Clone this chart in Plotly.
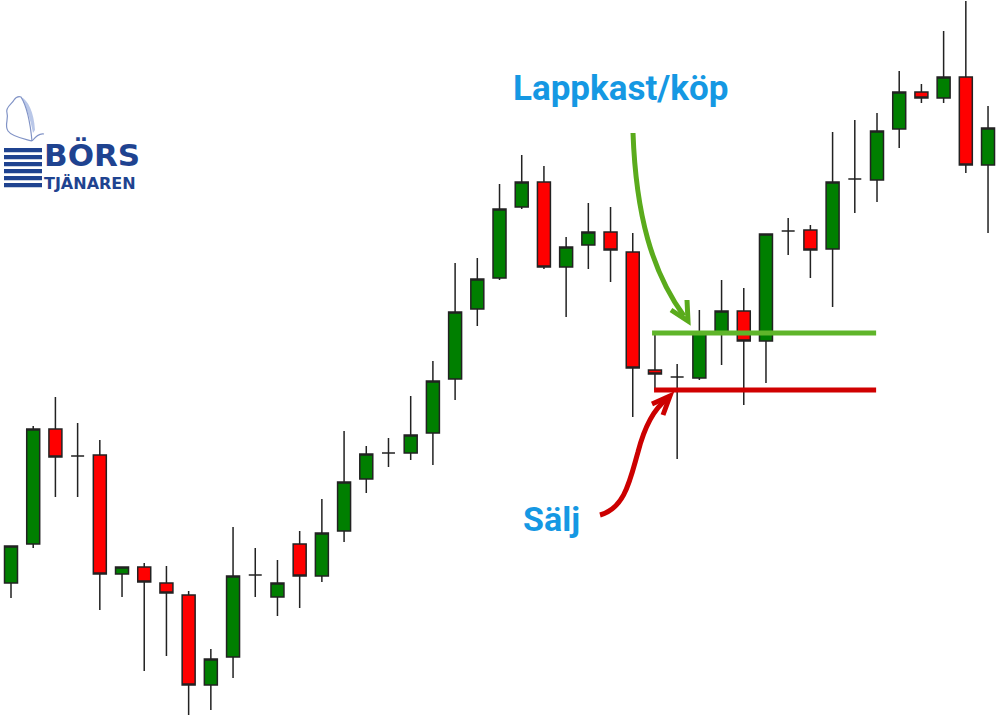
import plotly.graph_objects as go

# ---- data (price units) ----
idx = list(range(45))
opens = [113.4, 117.3, 128.8, 126.1, 126.2, 114.3, 115.0, 113.4, 112.2, 103.2,
         106.0, 114.2, 112.0, 117.3, 114.1, 118.6, 123.8, 126.4, 126.4, 128.4,
         133.8, 140.8, 143.9, 151.0, 153.5, 145.0, 147.2, 148.5, 146.5, 134.7,
         134.0, 133.9, 138.4, 140.6, 137.6, 148.6, 148.7, 146.8, 153.8, 153.7,
         158.8, 162.5, 161.9, 164.0, 155.2]
highs = [117.1, 129.1, 132.0, 129.4, 127.7, 115.0, 115.4, 115.1, 112.6, 106.8,
         119.0, 116.9, 115.7, 118.6, 121.8, 128.6, 127.1, 127.9, 132.1, 135.6,
         145.4, 145.9, 153.3, 156.2, 155.1, 148.0, 151.4, 151.0, 148.4, 138.2,
         135.3, 140.7, 143.7, 142.9, 148.3, 149.9, 149.2, 158.5, 159.7, 160.4,
         164.6, 163.3, 168.6, 171.6, 161.1]
lows = [111.9, 116.9, 122.0, 122.0, 110.7, 112.0, 104.6, 106.1, 100.2, 100.7,
        103.9, 112.0, 110.1, 110.9, 113.5, 117.5, 122.4, 125.0, 125.7, 125.2,
        131.7, 139.1, 143.7, 150.8, 144.8, 140.0, 144.8, 143.5, 130.0, 132.7,
        125.8, 133.7, 135.2, 131.2, 133.4, 146.2, 143.9, 141.0, 150.4, 151.5,
        156.9, 161.4, 161.4, 154.4, 148.4]
closes = [117.1, 128.8, 126.0, 126.1, 114.3, 115.0, 113.5, 112.4, 103.2, 105.8,
          114.1, 114.2, 113.4, 114.1, 118.4, 123.5, 126.3, 126.4, 128.2, 133.6,
          140.5, 143.8, 150.8, 153.5, 145.0, 147.0, 148.5, 146.7, 134.9, 134.3,
          134.0, 138.5, 140.6, 137.6, 148.3, 148.6, 146.7, 153.5, 153.8, 158.6,
          162.5, 161.9, 164.0, 155.2, 158.9]

buy_level = 138.4
sell_level = 132.7
buy_span = [28.87, 38.96]
sell_span = [28.96, 38.96]

title_buy = "Lappkast/köp"
title_sell = "Sälj"
logo_top = "BÖRS"
logo_bottom = "TJÄNAREN"

fig = go.Figure()
fig.add_trace(go.Candlestick(
    x=idx, open=opens, high=highs, low=lows, close=closes,
    increasing=dict(fillcolor="#007f00", line=dict(color="#222222", width=1.5)),
    decreasing=dict(fillcolor="#ff0000", line=dict(color="#222222", width=1.5)),
    whiskerwidth=0, showlegend=False, hoverinfo="skip",
))

# level lines
fig.add_trace(go.Scatter(x=buy_span, y=[buy_level, buy_level], mode="lines",
                         line=dict(color="#5fb52a", width=5), showlegend=False, hoverinfo="skip"))
fig.add_trace(go.Scatter(x=sell_span, y=[sell_level, sell_level], mode="lines",
                         line=dict(color="#d00000", width=5), showlegend=False, hoverinfo="skip"))

# invisible overlay for decoration layer (pixel-like canvas)
fig.add_trace(go.Scatter(x=[0], y=[0], xaxis="x2", yaxis="y2", mode="markers",
                         marker=dict(opacity=0), showlegend=False, hoverinfo="skip"))

shapes = []
# green curved arrow
shapes.append(dict(type="path", xref="x2", yref="y2",
                   path="M 633 133 C 636 215, 652 272, 684 316",
                   line=dict(color="#5aab1c", width=5)))
shapes.append(dict(type="path", xref="x2", yref="y2",
                   path="M 671 310 L 688 321 L 687 300",
                   line=dict(color="#5aab1c", width=5)))
# red curved arrow
shapes.append(dict(type="path", xref="x2", yref="y2",
                   path="M 600 515 C 625 508, 630 480, 638 452 C 645 425, 655 408, 667 399",
                   line=dict(color="#cc0000", width=5)))
shapes.append(dict(type="path", xref="x2", yref="y2",
                   path="M 652 404 L 670 396 L 663 415",
                   line=dict(color="#cc0000", width=5)))

# logo stripes
for k in range(6):
    y0 = 148 + k * 7.0
    shapes.append(dict(type="rect", xref="x2", yref="y2", x0=4, x1=42, y0=y0, y1=y0 + 4.2,
                       line=dict(width=0), fillcolor="#1f4390"))
# butterfly
shapes.append(dict(type="path", xref="x2", yref="y2",
                   path="M 21 97 C 28 100, 34 112, 35 130 L 33 133 C 30 118, 26 106, 21 97 Z",
                   line=dict(width=0), fillcolor="#b9c7e8"))
shapes.append(dict(type="path", xref="x2", yref="y2",
                   path="M 32 141 C 25 139, 12 137, 8 131 C 4 125, 9 119, 7 113 C 5 107, 12 104, 14 100 C 16 97, 18 96, 21 97 C 26 105, 30 120, 32 141",
                   line=dict(color="#8193c6", width=1.2)))
shapes.append(dict(type="path", xref="x2", yref="y2",
                   path="M 32 141 C 36 136, 40 133, 44 134",
                   line=dict(color="#8193c6", width=1.2)))

annotations = [
    dict(text=title_buy, xref="x2", yref="y2", x=620, y=88, showarrow=False,
         font=dict(family="Roboto", size=35, color="#1598e3", weight="bold"),
         xanchor="center", yanchor="middle"),
    dict(text=title_sell, xref="x2", yref="y2", x=551, y=519, showarrow=False,
         font=dict(family="Roboto", size=34, color="#1598e3", weight="bold"),
         xanchor="center", yanchor="middle"),
    dict(text=logo_top, xref="x2", yref="y2", x=43, y=154.5, showarrow=False,
         font=dict(family="DejaVu Sans", size=31, color="#1f4390", weight="bold"),
         xanchor="left", yanchor="middle", borderpad=0),
    dict(text=logo_bottom, xref="x2", yref="y2", x=43, y=183, showarrow=False,
         font=dict(family="DejaVu Sans", size=16, color="#1f4390", weight="bold"),
         xanchor="left", yanchor="middle", borderpad=0),
]

fig.update_layout(
    width=1000, height=717,
    margin=dict(l=0, r=0, t=0, b=0, pad=0),
    paper_bgcolor="white", plot_bgcolor="white",
    showlegend=False,
    boxgap=0.415, boxgroupgap=0,
    xaxis=dict(range=[-0.4954, 44.539], visible=False, rangeslider=dict(visible=False),
               fixedrange=True),
    yaxis=dict(range=[100.0, 171.7], visible=False, fixedrange=True),
    xaxis2=dict(range=[0, 1000], overlaying="x", visible=False, fixedrange=True),
    yaxis2=dict(range=[717, 0], overlaying="y", visible=False, fixedrange=True),
    shapes=shapes, annotations=annotations,
)

fig.write_html("out.html", config=dict(displayModeBar=False),
               post_script="document.body.style.margin='0';document.body.style.overflow='hidden';")
